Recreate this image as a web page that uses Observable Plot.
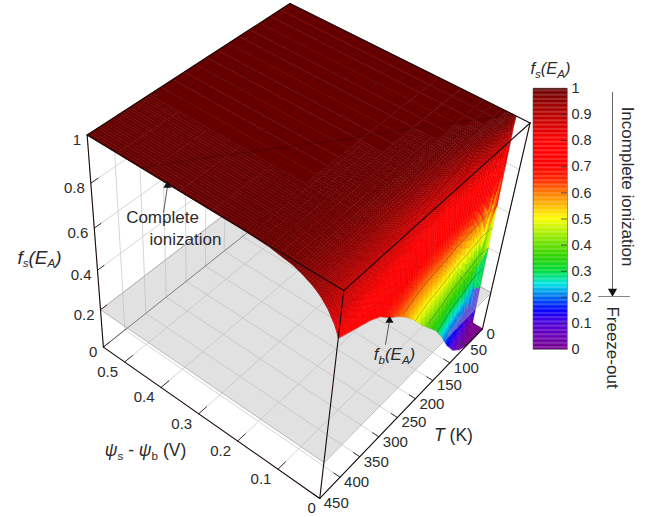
<!DOCTYPE html>
<html><head><meta charset="utf-8">
<script src="https://cdn.jsdelivr.net/npm/d3@7"></script>
<script src="https://cdn.jsdelivr.net/npm/@observablehq/plot@0.6"></script>
<style>html,body{margin:0;padding:0;background:#fff}svg{display:block}</style>
</head><body><div id="chart"></div>
<script>
// ---- values ----
const psiValues = [0,.005,.01,.015,.02,.025,.03,.035,.04,.05,.06,.08,.1,.15,.2,.56];
const tempValues = [0,25,50,75,100,125,150,175,200,225,250,275,300,325,350,375,400,425,450];
const fTable = [
 [0,0,0,0,0,0,1,1,1,1,1,1,1,1,1,1],
 [0,0,0,0,.015,.135,.61,.94,.99,.9995,1,1,1,1,1,1],
 [.002,.007,.021,.065,.18,.41,.69,.88,.96,.996,.9995,1,1,1,1,1],
 [.026,.054,.11,.21,.37,.56,.73,.86,.93,.983,.9965,.9999,1,1,1,1],
 [.072,.12,.20,.31,.44,.59,.72,.82,.89,.963,.988,.9988,.9999,1,1,1],
 [.147,.21,.30,.41,.52,.64,.74,.82,.875,.947,.978,.9965,.9995,1,1,1],
 [.24,.32,.40,.50,.60,.68,.76,.82,.87,.938,.970,.9935,.9986,1,1,1],
 [.32,.39,.475,.56,.64,.71,.77,.83,.87,.928,.962,.9894,.9972,1,1,1],
 [.38,.45,.52,.59,.66,.72,.78,.82,.86,.918,.952,.984,.995,.9997,1,1],
 [.44,.51,.57,.63,.69,.74,.79,.83,.86,.912,.946,.98,.9928,.9994,1,1],
 [.51,.57,.62,.68,.73,.77,.81,.84,.87,.914,.944,.977,.991,.999,.9999,1],
 [.57,.62,.67,.72,.76,.79,.83,.85,.88,.918,.944,.975,.989,.9987,.9998,1],
 [.62,.67,.71,.75,.78,.81,.84,.87,.89,.92,.944,.973,.9875,.998,.9997,1],
 [.66,.70,.74,.77,.80,.83,.85,.87,.89,.922,.944,.971,.985,.9975,.9996,1],
 [.71,.74,.77,.79,.82,.84,.86,.88,.895,.925,.944,.969,.984,.9969,.9994,1],
 [.74,.77,.79,.81,.83,.85,.87,.885,.90,.927,.945,.968,.982,.996,.9992,1],
 [.76,.79,.81,.83,.85,.865,.88,.89,.905,.93,.945,.967,.981,.9955,.9989,1],
 [.78,.81,.83,.845,.86,.875,.89,.90,.91,.932,.945,.966,.98,.995,.9987,1],
 [.80,.825,.845,.86,.875,.89,.90,.91,.92,.935,.947,.965,.979,.994,.9984,1]
];
const completeT = [0,50,100,150,200,250,300,350,400,450];
const completePsi = [.035,.08,.125,.17,.21,.255,.3,.345,.39,.43];
const freezeLevel = 0.2;
const contourLevels = [.3,.4,.5,.6];
const fTicks = [0,.2,.4,.6,.8,1];
const psiTicks = [0,.1,.2,.3,.4,.5];
const tTicks = [0,50,100,150,200,250,300,350,400,450];
const barTicks = [0,.1,.2,.3,.4,.5,.6,.7,.8,.9,1];
const colorStops = [0,.05,.1,.15,.2,.25,.3,.35,.42,.5,.6,.65,.7,.8,.9,1];
const colorRange = ["#78008c","#6a00b4","#5000dc","#0000ff","#006ef0","#00e6e6","#00dc3c","#28d200","#82e600","#ffff00","#ff7800","#ff2800","#ff0000","#ff0000","#b80000","#680000"];
const psiMax = 0.56, tMax = 450;

// ---- camera: 3D box corners and where they appear on the page ----
const anchors = [
 [0,450,0,319,498],[psiMax,450,0,103,347],[0,0,0,482,328],[0,450,1,343,290],
 [psiMax,450,1,87,134],[0,0,1,530,123],[psiMax,0,1,289,3]
];
function solveCamera() {
  const A = [], b = [];
  for (const [p,t,f,x,y] of anchors) {
    const u=p/psiMax, v=(tMax-t)/tMax, w=f;
    A.push([u,v,w,1,0,0,0,0,-x*u,-x*v,-x*w]); b.push(x);
    A.push([0,0,0,0,u,v,w,1,-y*u,-y*v,-y*w]); b.push(y);
  }
  const n=11, M=[];
  for (let i=0;i<n;i++){ M.push([]); for(let j=0;j<n;j++) M[i].push(d3.sum(A,r=>r[i]*r[j])); M[i].push(d3.sum(A,(r,k)=>r[i]*b[k])); }
  for (let i=0;i<n;i++){
    let m=i; for(let r=i+1;r<n;r++) if(Math.abs(M[r][i])>Math.abs(M[m][i])) m=r;
    [M[i],M[m]]=[M[m],M[i]];
    for(let r=0;r<n;r++) if(r!==i){ const c=M[r][i]/M[i][i]; for(let j=i;j<=n;j++) M[r][j]-=c*M[i][j]; }
  }
  return M.map((r,i)=>r[n]/r[i]);
}
const C = solveCamera();
function proj(psi,T,f){
  const u=psi/psiMax,v=(tMax-T)/tMax,w=f,d=C[8]*u+C[9]*v+C[10]*w+1;
  return {x:(C[0]*u+C[1]*v+C[2]*w+C[3])/d, y:(C[4]*u+C[5]*v+C[6]*w+C[7])/d};
}
function fAt(psi,T){
  let i=d3.bisectRight(psiValues,psi)-1; i=Math.max(0,Math.min(psiValues.length-2,i));
  let j=d3.bisectRight(tempValues,T)-1; j=Math.max(0,Math.min(tempValues.length-2,j));
  const a=(psi-psiValues[i])/(psiValues[i+1]-psiValues[i]), b=(T-tempValues[j])/(tempValues[j+1]-tempValues[j]);
  return (1-a)*(1-b)*fTable[j][i]+a*(1-b)*fTable[j][i+1]+(1-a)*b*fTable[j+1][i]+a*b*fTable[j+1][i+1];
}

// ---- surface cells, painted far to near ----
let id=0; const lowCells=[], highCells=[];
for (let i=psiValues.length-2;i>=0;i--) for (let j=0;j<tempValues.length-1;j++){
  const p0=psiValues[i],p1=psiValues[i+1],t0=tempValues[j],t1=tempValues[j+1];
  const flat=[fTable[j][i],fTable[j][i+1],fTable[j+1][i],fTable[j+1][i+1]].every(v=>v>=.9995);
  const ns=flat?1:5;
  for (let a=ns-1;a>=0;a--) for (let b=0;b<ns;b++){
    const pa=p0+(p1-p0)*a/ns,pb=p0+(p1-p0)*(a+1)/ns,ta=t0+(t1-t0)*b/ns,tb=t0+(t1-t0)*(b+1)/ns;
    const corners=[[pa,ta],[pb,ta],[pb,tb],[pa,tb]].map(([p,t])=>({p,t,f:fAt(p,t)}));
    const m=d3.mean(corners,c=>c.f); id++;
    const tgt=m<freezeLevel?lowCells:highCells;
    for(const c of corners){const q=proj(c.p,c.t,c.f); tgt.push({x:q.x,y:q.y,id,f:m});}
  }
}
const polyline=(pts,k)=>pts.map(([p,t,f])=>({...proj(p,t,f),k}));
let wallsFloor=[];
let k=0;
for(const p of psiTicks){ wallsFloor.push(...polyline([[p,450,0],[p,0,0]],k++)); wallsFloor.push(...polyline([[p,0,0],[p,0,1]],k++)); }
for(const t of tTicks){ wallsFloor.push(...polyline([[0,t,0],[psiMax,t,0]],k++)); wallsFloor.push(...polyline([[psiMax,t,0],[psiMax,t,1]],k++)); }
for(const f of fTicks){ wallsFloor.push(...polyline([[psiMax,450,f],[psiMax,0,f]],k++)); wallsFloor.push(...polyline([[psiMax,0,f],[0,0,f]],k++)); }
const plane=polyline([[0,450,freezeLevel],[psiMax,450,freezeLevel],[psiMax,0,freezeLevel],[0,0,freezeLevel]],0);
const backEdges=[...polyline([[psiMax,450,0],[psiMax,0,0]],1),...polyline([[0,0,0],[psiMax,0,0]],2)];
const frameEdges=[
 [[0,450,0],[psiMax,450,0]],[[0,450,0],[0,0,0]],[[0,450,0],[0,450,1]],[[psiMax,450,0],[psiMax,450,1]],[[0,0,0],[0,0,1]],
 [[psiMax,450,1],[psiMax,0,1]],[[psiMax,0,1],[0,0,1]],[[0,450,1],[psiMax,450,1]],[[0,450,1],[0,0,1]]
].flatMap((e,i)=>polyline(e,i));
let ticks=[]; let tk=0;
for(const p of psiTicks.slice(1)) ticks.push(...polyline([[p,450,0],[p,432,0]],tk++));
for(const t of tTicks.slice(1)) ticks.push(...polyline([[0,t,0],[.015,t,0]],tk++));
for(const f of fTicks) ticks.push(...polyline([[psiMax,450,f],[psiMax,436,f]],tk++));
// mesh: split into the dark plateau and the coloured slope, which carry different line strengths
const meshTop=[], meshSlope=[]; let mk=0;
const sampleP=psiValues.flatMap((p,i)=>i<psiValues.length-1?d3.range(4).map(n=>p+(psiValues[i+1]-p)*n/4):[p]);
function addMesh(samples){
  let prev=null;
  for(const [p,t] of samples){
    const f=fAt(p,t), top=f>=.97, pt={...proj(p,t,f)};
    if(prev&&prev.top!==top) mk++;
    (top?meshTop:meshSlope).push({...pt,k:mk});
    if(prev&&prev.top!==top){} 
    prev={top};
  }
  mk++;
}
for(let t=0;t<=450;t+=15) addMesh(sampleP.map(p=>[p,t]));
for(let p=0;p<=.56;p+=.02) addMesh(d3.range(0,451,5).map(t=>[p,t]));
// contours
const contours=[];
contourLevels.forEach((lv,li)=>{ for(let t=2;t<=450;t+=4){ if(fAt(0,t)>=lv) break; let p=0; while(p<.2&&fAt(p,t)<lv) p+=.0004; contours.push({...proj(p,t,lv),k:li}); } });
const completeLine=completeT.map((t,i)=>proj(completePsi[i],t,1));

// colour bar
const barBottom=349, barH=261, barY=f=>barBottom-f*barH;
const barSteps=d3.range(0,1,.005);
const F="Liberation Sans, Arial, sans-serif", ink="#2b2b2b";
const T=(txt,x,y,o={})=>Plot.text([txt],{text:d=>d,x:()=>x,y:()=>y,fill:ink,fontFamily:F,fontSize:17,...o});

const plot=Plot.plot({
 width:652,height:517,margin:0,style:{background:"#fff",fontFamily:F},
 x:{domain:[0,652],range:[0,652],axis:null},
 y:{domain:[0,517],range:[0,517],axis:null},
 color:{type:"linear",domain:colorStops,range:colorRange,interpolate:"rgb",clamp:true},
 marks:[
  Plot.line(wallsFloor,{x:"x",y:"y",z:"k",stroke:"#d6d6d6",strokeWidth:1}),
  Plot.line(backEdges,{x:"x",y:"y",z:"k",stroke:"#555",strokeWidth:1}),
  Plot.line(lowCells,{x:"x",y:"y",z:"id",fill:"f",stroke:"f",strokeWidth:.4,curve:"linear-closed"}),
  Plot.line(plane,{x:"x",y:"y",fill:"#bdbdbd",fillOpacity:.45,stroke:"#aaa",strokeWidth:.8,curve:"linear-closed"}),
  Plot.line(highCells,{x:"x",y:"y",z:"id",fill:"f",stroke:"f",strokeWidth:.4,curve:"linear-closed"}),
  Plot.line(meshTop,{x:"x",y:"y",z:"k",stroke:"#300",strokeOpacity:.3,strokeWidth:.7}),
  Plot.line(meshSlope,{x:"x",y:"y",z:"k",stroke:"#300",strokeOpacity:.1,strokeWidth:.6}),
  Plot.line(contours,{x:"x",y:"y",z:"k",stroke:"#222",strokeOpacity:.5,strokeWidth:.6}),
  Plot.line(completeLine,{x:"x",y:"y",stroke:"#300",strokeOpacity:.5,strokeWidth:.7}),
  Plot.line(ticks,{x:"x",y:"y",z:"k",stroke:"#333",strokeWidth:1}),
  Plot.line(frameEdges,{x:"x",y:"y",z:"k",stroke:"#1a0a0a",strokeWidth:1.1}),
  // tick labels
  Plot.text(fTicks,{x:f=>proj(psiMax,450,f).x,y:f=>proj(psiMax,450,f).y,text:f=>String(f),textAnchor:"end",dx:-6,dy:5,fill:ink,fontFamily:F,fontSize:15}),
  Plot.text(psiTicks.slice(1),{x:p=>proj(p,450,0).x,y:p=>proj(p,450,0).y,text:p=>String(p),dx:-17,dy:10,fill:ink,fontFamily:F,fontSize:15}),
  Plot.text([0],{x:p=>proj(p,450,0).x,y:p=>proj(p,450,0).y,text:p=>String(p),dx:-8,dy:10,fill:ink,fontFamily:F,fontSize:15}),
  Plot.text(tTicks,{x:t=>proj(0,t,0).x,y:t=>proj(0,t,0).y,text:t=>String(t),textAnchor:"start",dx:4,dy:5,fill:ink,fontFamily:F,fontSize:15}),
  // axis titles
  T("fs(EA)",39,257,{fontSize:19}),
  T("\u03c8s - \u03c8b (V)",145,450,{fontSize:17.5}),
  T("T (K)",453,435,{fontSize:17.5}),
  // annotations
  T("Complete",162,217), T("ionization",185,239),
  Plot.line([{x:163,y:212},{x:167,y:186}],{x:"x",y:"y",stroke:"#333",strokeWidth:.8}),
  Plot.dot([0],{x:()=>167,y:()=>185,symbol:"triangle",r:3,fill:"#111"}),
  T("fb(EA)",394,354),
  Plot.line([{x:385,y:344},{x:389,y:320}],{x:"x",y:"y",stroke:"#333",strokeWidth:.8}),
  Plot.dot([0],{x:()=>389,y:()=>320,symbol:"triangle",r:3,fill:"#111"}),
  // colour bar
  Plot.rect(barSteps,{x1:()=>533,x2:()=>567,y1:f=>barY(f),y2:f=>barY(f+.0055),fill:f=>f+.0025}),
  Plot.line([{x:533,y:barY(0)},{x:567,y:barY(0)},{x:567,y:barY(1)},{x:533,y:barY(1)}],{x:"x",y:"y",stroke:"#444",strokeWidth:.6,curve:"linear-closed"}),
  Plot.ruleY(barTicks.slice(1,-1),{x1:()=>561,x2:()=>567,y:barY,stroke:"#333",strokeWidth:.8}),
  Plot.text(barTicks,{x:()=>571,y:barY,text:f=>String(f),textAnchor:"start",fill:ink,fontFamily:F,fontSize:14.5}),
  T("fs(EA)",550,68,{fontSize:16.5}),
  // ionization regime annotation
  Plot.line([{x:612,y:92},{x:612,y:290}],{x:"x",y:"y",stroke:"#555",strokeWidth:.9}),
  Plot.dot([0],{x:()=>612,y:()=>291,symbol:"triangle",r:3.4,fill:"#111",rotate:180}),
  Plot.line([{x:598,y:296},{x:629,y:296}],{x:"x",y:"y",stroke:"#777",strokeWidth:.9}),
  T("Incomplete ionization",627,186,{rotate:90}),
  T("Freeze-out",612,347,{rotate:90})
 ]
});
// subscripts and italics inside the mixed labels
const svgNS="http://www.w3.org/2000/svg";
const rich={
 "fs(EA)":[["f","i"],["s","is"],["(E","i"],["A","is"],[")","i"]],
 "fb(EA)":[["f","i"],["b","is"],["(E","i"],["A","is"],[")","i"]],
 "\u03c8s - \u03c8b (V)":[["\u03c8","i"],["s","s"],[" - ",""],["\u03c8","i"],["b","s"],[" (V)",""]],
 "T (K)":[["T","i"],[" (K)",""]]
};
plot.querySelectorAll("text").forEach(t=>{
  const spec=rich[t.textContent]; if(!spec) return;
  const fs=parseFloat(getComputedStyle(t).fontSize)||17; t.textContent="";
  let down=false;
  for(const [s,m] of spec){
    const sp=document.createElementNS(svgNS,"tspan"); sp.textContent=s;
    if(m.includes("i")) sp.setAttribute("font-style","italic");
    const sub=m.includes("s"); let dy=0;
    if(sub&&!down){dy=fs*.22;down=true;} else if(!sub&&down){dy=-fs*.22;down=false;}
    if(dy) sp.setAttribute("dy",dy);
    if(sub) sp.setAttribute("font-size",fs*.68);
    t.appendChild(sp);
  }
});
document.getElementById("chart").appendChild(plot);
</script></body></html>
